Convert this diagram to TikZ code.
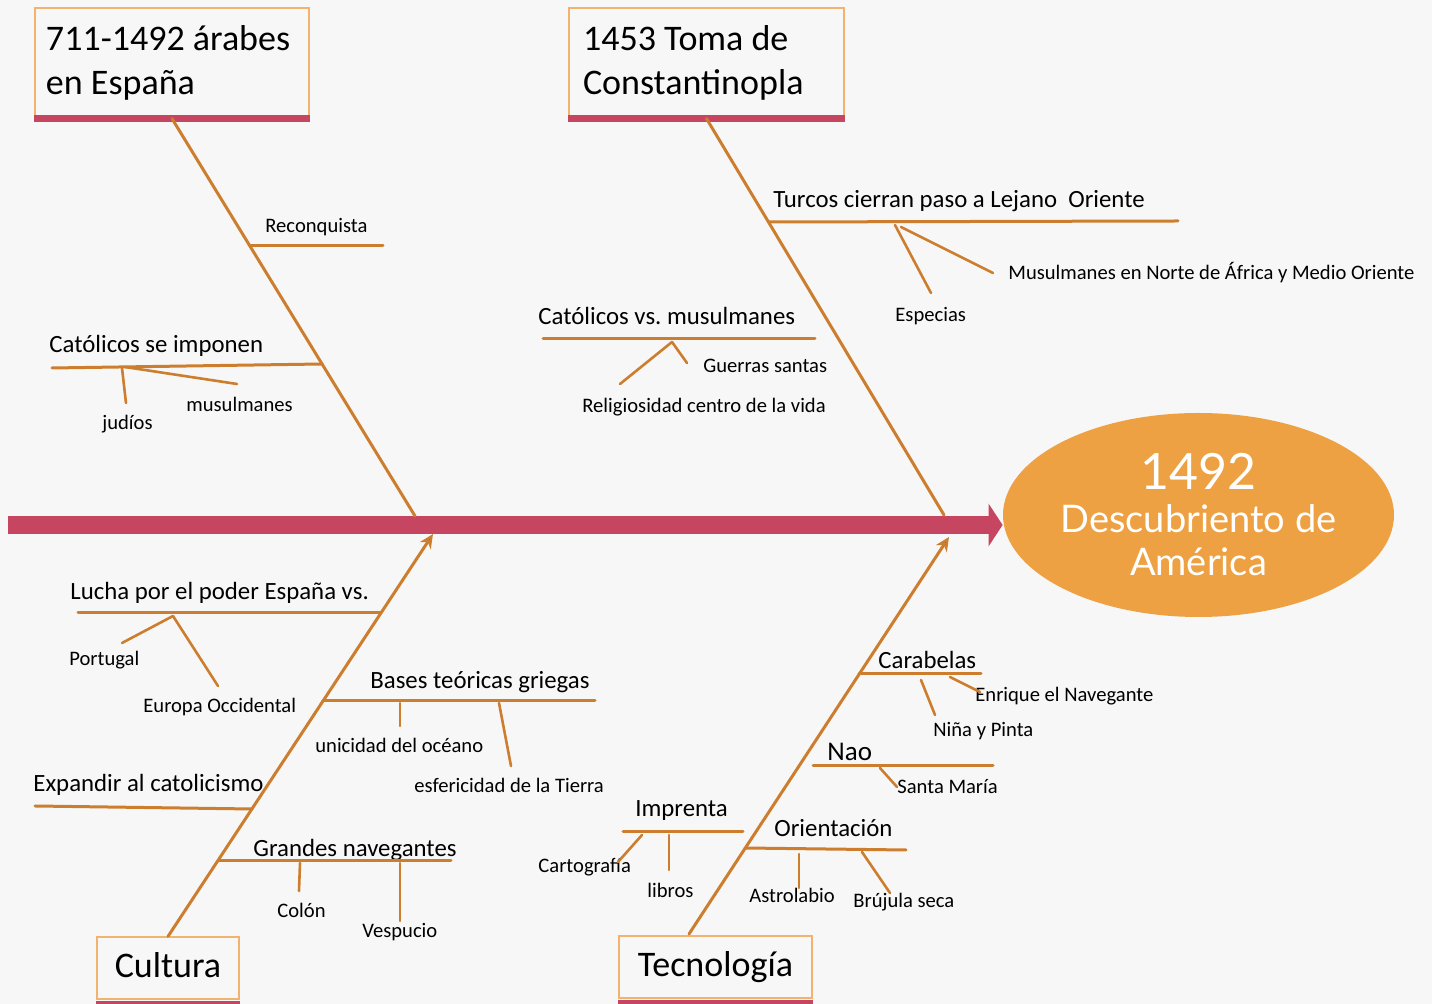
\documentclass[tikz,border=0pt]{standalone}
\usepackage{fontspec}
\setmainfont{Carlito}
\newfontfamily\goalfont{Lato}
\usetikzlibrary{arrows.meta,shapes.geometric,positioning}

\definecolor{paper}{HTML}{F7F7F7}
\definecolor{spinered}{HTML}{C64561}
\definecolor{bonebrown}{RGB}{204,126,46}
\definecolor{boxedge}{HTML}{F2B36E}
\definecolor{goalorange}{HTML}{EEA142}

\begin{document}
\frenchspacing
\begin{tikzpicture}[x=0.5pt,y=-0.5pt,>={Stealth[length=7pt,width=6.5pt]},
                    line cap=round]

  \tikzstyle{cause}=[draw=boxedge,line width=0.6pt,fill=paper,
                     inner xsep=7pt,inner ysep=0pt,align=flush left,
                     font=\fontsize{18}{22}\selectfont]
  \tikzstyle{bar}=[draw=spinered,line width=3.5pt,line cap=butt]
  \tikzstyle{spine}=[draw=spinered,line width=9pt,line cap=butt,
                     -{Triangle[length=7pt,width=21pt]}]
  \tikzstyle{goal}=[ellipse,fill=goalorange,text=white,inner sep=0pt,
                    minimum width=195.5pt,minimum height=102pt,align=flush center,
                    font=\goalfont\fontsize{19}{21.5}\selectfont]
  \tikzstyle{bone}=[draw=bonebrown,line width=1.5pt]
  \tikzstyle{twig}=[draw=bonebrown,line width=1.3pt]
  \tikzstyle{cat}=[inner sep=0pt,anchor=base west,
                   font=\fontsize{12.4}{14}\selectfont]
  \tikzstyle{leaf}=[inner sep=0pt,anchor=base west,
                    font=\fontsize{10.3}{12}\selectfont]

  \fill[paper] (0,0) rectangle (1432,1004);
  \useasboundingbox (0,0) rectangle (1432,1004);

  % head of the fish
  \coordinate (tail) at (8,525);
  \node[goal]
    (goal) at (1198.5,515) {{\fontsize{25}{21.5}\selectfont 1492}\\Descubriento de\\América};
  \draw[spine] (tail) -- (tail -| goal.west);

  % the four causes
  \node[cause, inner xsep=5.5pt, text width=126pt, minimum height=55pt]
    (arabes) at (172,63) {711-1492 árabes\\en España};
  \node[cause, text width=123.5pt, minimum height=55pt]
    (toma) at (706.5,63) {1453 Toma de\\Constantinopla};
  \node[cause, align=flush center, text height=13pt, text depth=3pt,
        minimum width=71pt, minimum height=31pt]
    (cultura) at (168,968) {Cultura};
  \node[cause, align=flush center, text height=13pt, text depth=3pt,
        minimum width=96.5pt, minimum height=31pt]
    (tecno) at (715.5,967) {Tecnología};

  \draw[bar] (arabes.south west) -- (arabes.south east);
  \draw[bar] (toma.south west) -- (toma.south east);
  \draw[bar] ([yshift=-2.5pt]cultura.south west) -- ([yshift=-2.5pt]cultura.south east);
  \draw[bar] ([yshift=-2.5pt]tecno.south west) -- ([yshift=-2.5pt]tecno.south east);

  % main bones
  \coordinate (tlEnd) at (415,516);
  \coordinate (trEnd) at (944,515);
  \coordinate (blTip) at (433,534);
  \coordinate (brFoot) at (689,934);
  \coordinate (brTip) at (949,537);

  \path[bone] (arabes.south) edge (tlEnd)
              (toma.south)   edge (trEnd)
              (cultura.north) edge[->] (blTip)
              (brFoot)       edge[->] (brTip);

  % 711-1492
  \coordinate (recA) at (250,246);   \coordinate (recB) at (383,246);
  \coordinate (impA) at (322,364);   \coordinate (impB) at (52,368);
  \coordinate (judA) at (122,368);   \coordinate (judB) at (126,403);
  \coordinate (musA) at (125,367);   \coordinate (musB) at (237,384);

  \node[leaf] (reconquista) at (265,233) {Reconquista};
  \node[cat]  (imponen)     at (49,353)  {Católicos se imponen};
  \node[leaf] (judios)      at (102,430) {judíos};
  \node[leaf] (musulmanes)  at (186,412) {musulmanes};

  % 1453
  \coordinate (turA) at (769,222);   \coordinate (turB) at (1178,221);
  \coordinate (espA) at (895,225);   \coordinate (espB) at (931,293);
  \coordinate (norA) at (901,227);   \coordinate (norB) at (993,273);
  \coordinate (vsA) at (543,339);    \coordinate (vsB) at (815,339);
  \coordinate (relA) at (672,342);   \coordinate (relB) at (620,384);
  \coordinate (guA) at (672,342);    \coordinate (guB) at (687,363);

  \node[cat]  (turcos)   at (773,208)  {Turcos cierran paso a Lejano\ \ Oriente};
  \node[leaf] (especias) at (895,322)  {Especias};
  \node[leaf] (norte)    at (1008,280) {Musulmanes en Norte de África y Medio Oriente};
  \node[cat]  (catvs)    at (538,325)  {Católicos vs. musulmanes};
  \node[leaf] (guerras)  at (703,373)  {Guerras santas};
  \node[leaf] (religion) at (582,413)  {Religiosidad centro de la vida};

  % Cultura
  \coordinate (luA) at (381,613);    \coordinate (luB) at (78,613);
  \coordinate (porA) at (173,616);   \coordinate (porB) at (122,643);
  \coordinate (euA) at (173,616);    \coordinate (euB) at (218,686);
  \coordinate (baA) at (323,701);    \coordinate (baB) at (595,701);
  \coordinate (uniA) at (400,703);   \coordinate (uniB) at (400,726);
  \coordinate (esfA) at (499,703);   \coordinate (esfB) at (511,766);
  \coordinate (exA) at (252,809);    \coordinate (exB) at (35,806);
  \coordinate (grA) at (218,861);    \coordinate (grB) at (451,861);
  \coordinate (colA) at (300,863);   \coordinate (colB) at (299,891);
  \coordinate (vesA) at (400,863);   \coordinate (vesB) at (400,921);

  \node[cat]  (lucha)    at (70,600)  {Lucha por el poder España vs.};
  \node[leaf] (portugal) at (69,666)  {Portugal};
  \node[leaf] (europa)   at (143,713) {Europa Occidental};
  \node[cat]  (bases)    at (370,689) {Bases teóricas griegas};
  \node[leaf] (unicidad) at (315,753) {unicidad del océano};
  \node[leaf] (esfera)   at (414,793) {esfericidad de la Tierra};
  \node[cat]  (expandir) at (33,792)  {Expandir al catolicismo};
  \node[cat]  (grandes)  at (253,857) {Grandes navegantes};
  \node[leaf] (colon)    at (277,918) {Colón};
  \node[leaf] (vespucio) at (362,938) {Vespucio};

  % Tecnologia
  \coordinate (carA) at (859,674);   \coordinate (carB) at (981,674);
  \coordinate (ninA) at (921,680);   \coordinate (ninB) at (935,715);
  \coordinate (enA) at (950,677);    \coordinate (enB) at (980,692);
  \coordinate (naoA) at (813,766);   \coordinate (naoB) at (993,766);
  \coordinate (smA) at (880,768);    \coordinate (smB) at (897,787);
  \coordinate (orA) at (745,848);    \coordinate (orB) at (906,850);
  \coordinate (asA) at (799,854);    \coordinate (asB) at (799,888);
  \coordinate (bruA) at (862,852);   \coordinate (bruB) at (890,893);
  \coordinate (prA) at (623,832);    \coordinate (prB) at (743,832);
  \coordinate (cartoA) at (642,835); \coordinate (cartoB) at (618,862);
  \coordinate (libA) at (669,835);   \coordinate (libB) at (669,870);

  \node[cat]  (carabelas) at (878,669) {Carabelas};
  \node[leaf] (enrique)   at (975,702) {Enrique el Navegante};
  \node[leaf] (nina)      at (933,737) {Niña y Pinta};
  \node[cat, font=\fontsize{13.5}{15}\selectfont]
              (nao)       at (827,761) {Nao};
  \node[leaf] (santa)     at (897,794) {Santa María};
  \node[cat]  (orienta)   at (774,837) {Orientación};
  \node[leaf] (astro)     at (749,903) {Astrolabio};
  \node[leaf] (brujula)   at (853,908) {Brújula seca};
  \node[cat]  (imprenta)  at (635,817) {Imprenta};
  \node[leaf] (cartog)    at (538,873) {Cartografía};
  \node[leaf] (libros)    at (647,898) {libros};

  % branches and twigs
  \path[bone] (recA) edge (recB)  (impA) edge (impB)
              (turA) edge (turB)  (vsA) edge (vsB)
              (luA) edge (luB)    (baA) edge (baB)
              (exA) edge (exB)    (grA) edge (grB)
              (carA) edge (carB)  (naoA) edge (naoB)
              (orA) edge (orB)    (prA) edge (prB);

  \path[twig] (judA) edge (judB)  (musA) edge (musB)
              (espA) edge (espB)  (norA) edge (norB)
              (relA) edge (relB)  (guA) edge (guB)
              (porA) edge (porB)  (euA) edge (euB)
              (uniA) edge (uniB)  (esfA) edge (esfB)
              (colA) edge (colB)  (vesA) edge (vesB)
              (ninA) edge (ninB)  (enA) edge (enB)
              (smA) edge (smB)    (asA) edge (asB)
              (bruA) edge (bruB)  (cartoA) edge (cartoB)
              (libA) edge (libB);

\end{tikzpicture}
\end{document}
